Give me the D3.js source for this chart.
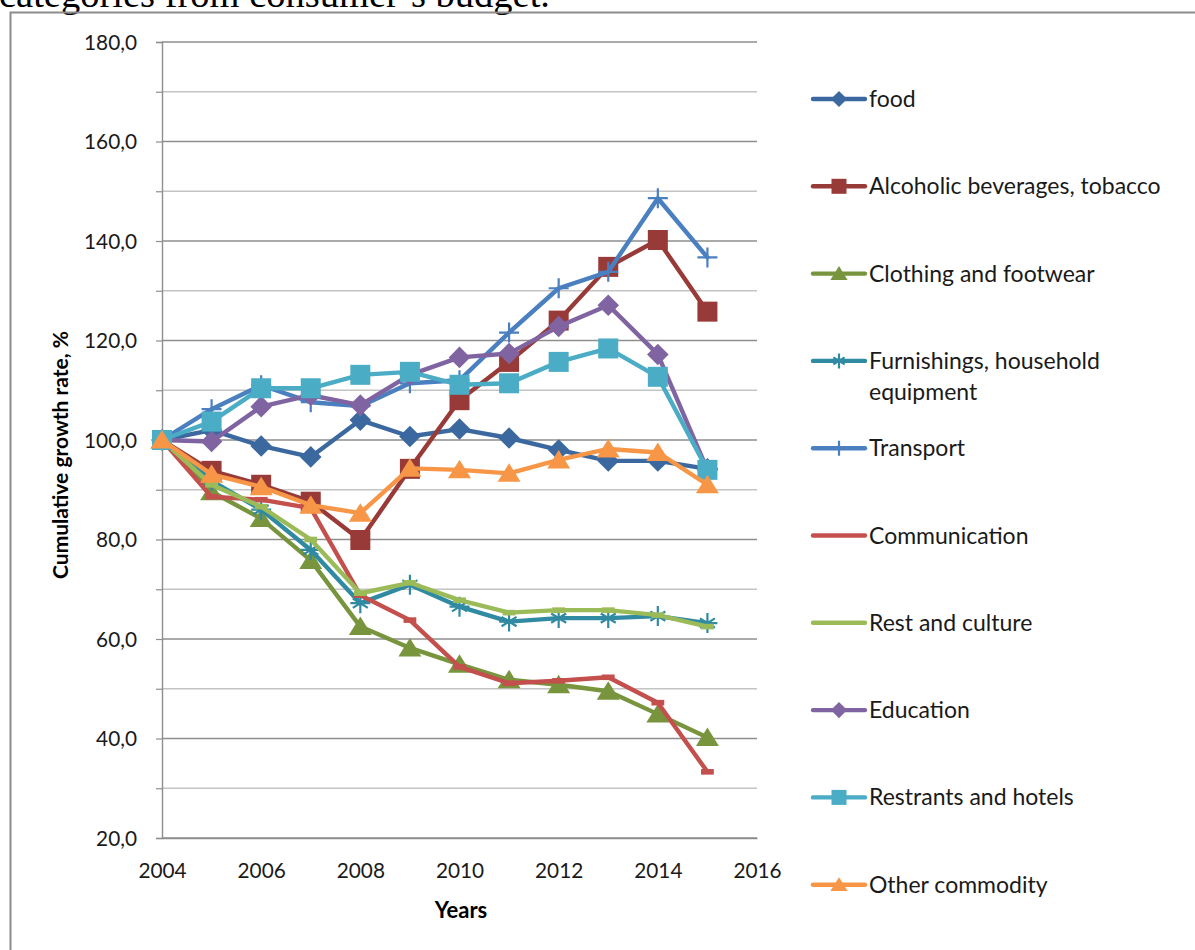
<!DOCTYPE html>
<html><head><meta charset="utf-8">
<script src="https://cdn.jsdelivr.net/npm/d3@7"></script>
<style>body{margin:0;background:#fff;overflow:hidden} svg{display:block}</style>
</head><body>
<svg id="c" width="1195" height="950"></svg>
<script>
// ---- data ----
const years = [2004,2005,2006,2007,2008,2009,2010,2011,2012,2013,2014,2015];
const food          = [100,102.0,98.8,96.6,104.0,100.7,102.2,100.4,98.0,95.8,95.8,94.2];
const alcohol       = [100,93.8,91.0,87.6,79.9,94.2,108.0,115.7,124.0,134.8,140.2,125.8];
const clothing      = [100,89.6,84.2,75.8,62.5,58.2,54.9,51.8,50.8,49.5,44.9,40.2];
const furnishings   = [100,91.8,86.0,77.9,67.2,70.9,66.5,63.5,64.2,64.2,64.6,63.2];
const transport     = [100,106.2,111.0,107.6,106.8,111.4,112.0,121.6,130.5,133.8,148.6,136.7];
const communication = [100,88.6,88.0,86.3,68.8,63.8,54.4,51.1,51.6,52.3,47.2,33.3];
const restCulture   = [100,91.0,86.6,80.0,69.2,71.3,67.8,65.3,65.8,65.8,64.8,62.5];
const education     = [100,99.7,106.7,109.0,107.0,113.1,116.6,117.4,122.8,127.1,117.2,94.0];
const restaurants   = [100,103.7,110.4,110.4,113.1,113.7,111.1,111.4,115.7,118.4,112.7,94.0];
const other         = [100,93.1,90.6,86.9,85.3,94.3,94.0,93.3,96.0,98.2,97.5,91.0];

const seriesNames = ["food","Alcoholic beverages, tobacco","Clothing and footwear","Furnishings, household equipment","Transport","Communication","Rest and culture","Education","Restrants and hotels","Other commodity"];
const seriesValues = [food,alcohol,clothing,furnishings,transport,communication,restCulture,education,restaurants,other];
const seriesColors = ["#3b689f","#983a37","#78953d","#2f8aa2","#4a7fc0","#c3504d","#9bbb59","#8064a2","#4bacc6","#f79646"];
const seriesMarkers = ["diamond","square","triangle","star","plus","dash","dash","diamond","square","triangle"];

const yTicks = [20,30,40,50,60,70,80,90,100,110,120,130,140,150,160,170,180];
const yLabelTicks = [20,40,60,80,100,120,140,160,180];
const xTicks = [2004,2006,2008,2010,2012,2014,2016];

const title = "categories from consumer\u2019s budget.";
const yTitle = "Cumulative growth rate, %";
const xTitle = "Years";

// ---- drawing ----
const svg = d3.select("#c");
const FONT = "Lato, 'Open Sans', sans-serif";
const x = d3.scaleLinear().domain([2004,2016]).range([162,757]);
const y = d3.scaleLinear().domain([20,180]).range([838,42]);

// top text (cut off)
svg.append("text").attr("x",-1).attr("y",7).attr("font-family","'Liberation Serif','Times New Roman',serif")
  .attr("font-size",38.5).attr("fill","#000").text(title);

// outer frame
svg.append("path").attr("d","M10.5,960 V12.5 H1200").attr("fill","none").attr("stroke","#8c8c8c").attr("stroke-width",2);

// gridlines
const grid = svg.append("g");
grid.selectAll("line").data(yTicks).join("line")
  .attr("x1",x(2004)).attr("x2",x(2016))
  .attr("y1",d=>y(d)).attr("y2",d=>y(d))
  .attr("stroke",d=>d%20===0?"#8e8e8e":"#c4c4c4").attr("stroke-width",1.4);

// y axis
const yAxis = d3.axisLeft(y).tickValues(yTicks).tickSize(6).tickFormat(d=>yLabelTicks.includes(d)?d.toFixed(1).replace('.',','):"");
const ya = svg.append("g").attr("transform",`translate(${x(2004)},0)`).call(yAxis);
ya.select(".domain").attr("stroke","#8e8e8e").attr("stroke-width",1.4);
ya.selectAll(".tick line").attr("stroke","#8e8e8e").attr("stroke-width",1.2);
ya.selectAll(".tick text").attr("font-family",FONT).attr("font-size",20.8).attr("fill","#1a1a1a").attr("x",-25).attr("dy","0.35em");

// x axis
const xAxis = d3.axisBottom(x).tickValues(xTicks).tickSize(0).tickFormat(d=>String(d));
const xa = svg.append("g").attr("transform",`translate(0,${y(20)})`).call(xAxis);
xa.select(".domain").attr("stroke","#8e8e8e").attr("stroke-width",1.4);
xa.selectAll(".tick text").attr("font-family",FONT).attr("font-size",20.8).attr("fill","#1a1a1a").attr("y",25).attr("dy","0.71em");

// axis titles
svg.append("text").attr("transform","translate(68,455) rotate(-90)").attr("text-anchor","middle")
  .attr("font-family",FONT).attr("font-weight","bold").attr("font-size",21).attr("fill","#000").text(yTitle);
svg.append("text").attr("x",461).attr("y",918).attr("text-anchor","middle")
  .attr("font-family",FONT).attr("font-weight","bold").attr("font-size",22).attr("fill","#000").text(xTitle);

// marker drawing
function marker(g, type, color, s){
  const h = s/2;
  if(type==="diamond"){
    const d = h*1.08;
    g.append("path").attr("d",`M0,${-d}L${d},0L0,${d}L${-d},0Z`).attr("fill",color);
  } else if(type==="square"){
    g.append("rect").attr("x",-h).attr("y",-h).attr("width",s).attr("height",s).attr("fill",color);
  } else if(type==="triangle"){
    const w = s*1.15;
    g.append("path").attr("d",`M0,${-h}L${w/2},${h*0.85}L${-w/2},${h*0.85}Z`).attr("fill",color);
  } else if(type==="plus"){
    g.append("path").attr("d",`M${-h},0H${h}M0,${-h}V${h}`).attr("stroke",color).attr("stroke-width",2.2).attr("fill","none");
  } else if(type==="star"){
    const d = h*0.75;
    g.append("path").attr("d",`M0,${-h}V${h}M${-d},${-d*0.62}L${d},${d*0.62}M${-d},${d*0.62}L${d},${-d*0.62}M${-h},0H${h}`)
      .attr("stroke",color).attr("stroke-width",2.2).attr("fill","none");
  } else if(type==="dash"){
    g.append("rect").attr("x",-s*0.32).attr("y",-2.8).attr("width",s*0.64).attr("height",5.6).attr("fill",color);
  }
}

// series
const line = d3.line().x((d,i)=>x(years[i])).y(d=>y(d));
const plot = svg.append("g");
seriesValues.forEach((vals,k)=>{
  const g = plot.append("g");
  g.append("path").attr("d",line(vals)).attr("fill","none").attr("stroke",seriesColors[k])
    .attr("stroke-width",4.4).attr("stroke-linejoin","round").attr("stroke-linecap","round");
  vals.forEach((v,i)=>{
    const m = g.append("g").attr("transform",`translate(${x(years[i])},${y(v)})`);
    marker(m, seriesMarkers[k], seriesColors[k], 20);
  });
});

// legend
const legend = svg.append("g");
const legY0 = 99, legStep = 87.3;
seriesNames.forEach((name,k)=>{
  const ly = legY0 + k*legStep;
  const g = legend.append("g").attr("transform",`translate(0,${ly})`);
  g.append("line").attr("x1",813).attr("x2",865).attr("y1",0).attr("y2",0)
    .attr("stroke",seriesColors[k]).attr("stroke-width",4.4).attr("stroke-linecap","round");
  if(seriesMarkers[k]!=="dash"){
    const m = g.append("g").attr("transform","translate(839,0)");
    marker(m, seriesMarkers[k], seriesColors[k], 15);
  }
  const t = g.append("text").attr("x",869).attr("y",0).attr("dy","0.35em")
    .attr("font-family",FONT).attr("font-size",23).attr("fill","#1a1a1a");
  if(name.startsWith("Furnishings")){
    t.append("tspan").attr("x",869).text("Furnishings, household");
    t.append("tspan").attr("x",869).attr("dy","1.35em").text("equipment");
  } else t.text(name);
});
</script>
</body></html>
